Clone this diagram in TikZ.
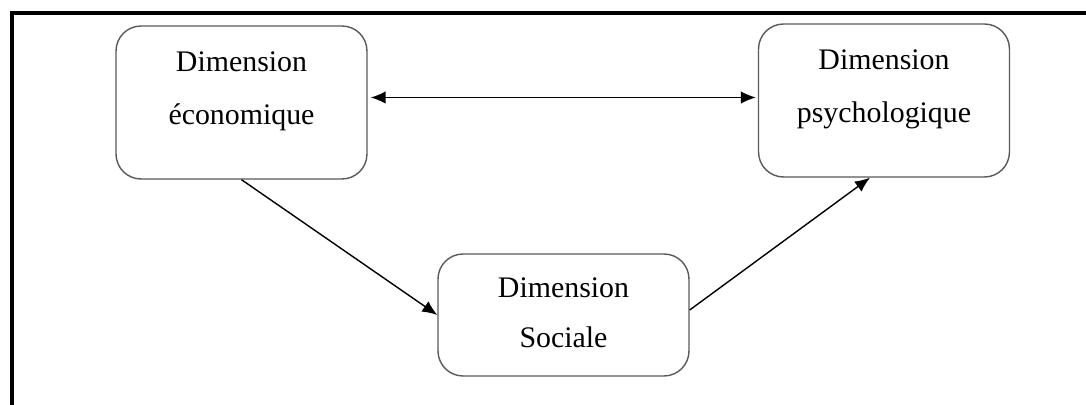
\documentclass[tikz,border=0pt]{standalone}
\usepackage{fontspec}
\setmainfont{Liberation Serif}
\usetikzlibrary{arrows.meta}
\tikzset{
  dim/.style={draw=black!65, line width=0.8pt, rounded corners=0.5cm,
    inner sep=0pt, text=black, font=\fontsize{17}{30}\selectfont},
  fleche/.style={line width=0.8pt, -{Latex[length=3mm,width=2.5mm]}},
  double fleche/.style={line width=0.8pt, {Latex[length=3mm,width=2.5mm]}-{Latex[length=3mm,width=2.5mm]}}
}
% boite: hauteur, premiere ligne, texte
\newcommand{\boite}[3]{\parbox[c][#1][t]{5.02cm}{\centering\rule{0pt}{#2}#3}}
\begin{document}
\begin{tikzpicture}[x=0.02cm,y=-0.02cm]
\useasboundingbox (0,0) rectangle (1086,405);
\draw[line width=2.3pt] (12,420) -- (12,13) -- (1100,13);
\node[dim] (eco) at (241.5,102.5) {\boite{3.06cm}{26pt}{Dimension\\économique}};
\node[dim] (psy) at (884,100.5) {\boite{3.06cm}{26pt}{Dimension\\psychologique}};
\node[dim] (soc) at (563.5,315) {\boite{2.44cm}{25pt}{Dimension\\[-1.7pt]Sociale}};
\draw[double fleche] ([xshift=0.6mm,yshift=1mm]eco.east) -- ([xshift=-0.4mm,yshift=1mm]eco.east -| psy.west);
\draw[fleche] (eco.south) -- (soc.west);
\draw[fleche] ([yshift=1mm]soc.east) -- ([xshift=-2.8mm]psy.south);
\end{tikzpicture}
\end{document}
